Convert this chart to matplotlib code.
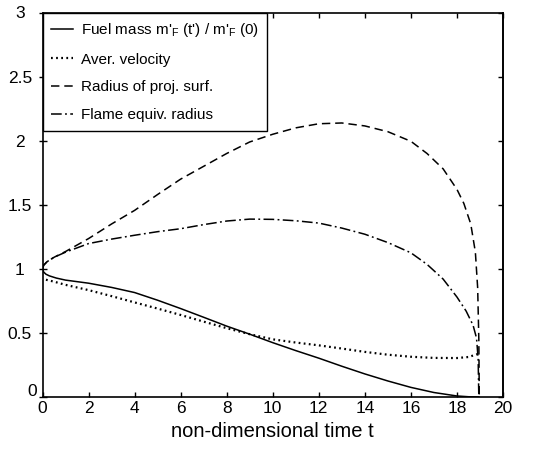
import matplotlib
matplotlib.use("Agg")
import matplotlib.pyplot as plt

plt.rcParams['font.family'] = ['Liberation Sans', 'DejaVu Sans']
plt.rcParams['mathtext.fontset'] = 'custom'
plt.rcParams['mathtext.rm'] = 'Liberation Sans'
plt.rcParams['mathtext.it'] = 'Liberation Sans:italic'

# Fuel mass
t_mass = [0, 0.05, 0.15, 0.3, 0.6, 1.0, 1.5, 2, 3, 4, 5, 6, 7, 8, 9, 10, 11, 12,
          13, 14, 15, 16, 17, 18, 18.5, 18.95]
y_mass = [1.0, 0.975, 0.958, 0.945, 0.928, 0.912, 0.900, 0.888, 0.855, 0.815, 0.755,
          0.690, 0.622, 0.553, 0.490, 0.424, 0.362, 0.303, 0.240, 0.180, 0.125, 0.075,
          0.035, 0.008, 0.002, 0.0]

# Average velocity
t_vel = [0.15, 0.5, 1, 2, 3, 4, 5, 6, 7, 8, 9, 10, 11, 12, 13, 14, 15, 16, 17, 18,
         18.5, 18.9]
y_vel = [0.915, 0.900, 0.875, 0.834, 0.787, 0.738, 0.690, 0.640, 0.588, 0.537, 0.490,
         0.450, 0.425, 0.403, 0.378, 0.352, 0.330, 0.314, 0.305, 0.304, 0.312, 0.335]

# Radius of projected surface
t_rad = [0, 0.05, 0.2, 0.5, 1, 2, 3, 4, 5, 6, 7, 8, 9, 10, 11, 12, 13, 14, 15, 16,
         16.7, 17.4, 18, 18.3, 18.6, 18.8, 18.9, 18.95, 18.97]
y_rad = [1.0, 1.028, 1.056, 1.09, 1.135, 1.236, 1.35, 1.456, 1.58, 1.70, 1.80, 1.90,
         1.99, 2.05, 2.10, 2.132, 2.138, 2.115, 2.07, 1.995, 1.90, 1.78, 1.62, 1.51,
         1.35, 1.13, 0.85, 0.45, 0.0]

# Flame equivalent radius
t_flame = [0, 0.05, 0.2, 0.5, 1, 2, 3, 4, 5, 6, 7, 8, 9, 10, 11, 12, 13, 14, 15, 16,
           16.7, 17.4, 18, 18.4, 18.7, 18.85, 18.92, 18.95]
y_flame = [1.0, 1.028, 1.056, 1.09, 1.13, 1.197, 1.232, 1.262, 1.29, 1.313, 1.345,
           1.373, 1.388, 1.386, 1.375, 1.357, 1.318, 1.270, 1.205, 1.125, 1.035, 0.92,
           0.78, 0.67, 0.56, 0.46, 0.30, 0.0]

labels = [r"Fuel mass m$'_\mathrm{F}$ (t') / m$'_\mathrm{F}$ (0)",
          "Aver. velocity",
          "Radius of proj. surf.",
          "Flame equiv. radius"]
xticks = [0, 2, 4, 6, 8, 10, 12, 14, 16, 18, 20]
yticks = [0, 0.5, 1, 1.5, 2, 2.5, 3]
ytick_labels = ["0", "0.5", "1", "1.5", "2", "2.5", "3"]

fig = plt.figure(figsize=(5.54, 4.49), dpi=100)
ax = fig.add_axes([42.5/554, 1-397/449, (503-42.5)/554, (397-12.5)/449])

lw = 1.1
ax.plot(t_mass, y_mass, color='black', lw=lw, label=labels[0])
ax.plot(t_vel, y_vel, color='black', lw=1.6, dashes=(0.8, 1.5), label=labels[1])
ax.plot(t_rad, y_rad, color='black', lw=lw, dashes=(5.5, 3.2), label=labels[2])
ax.plot(t_flame, y_flame, color='black', lw=lw, dashes=(7, 2.2, 1.2, 2.2), label=labels[3])

ax.set_xlim(0, 20)
ax.set_ylim(0, 3)
ax.set_xticks(xticks)
ax.set_xticklabels([str(v) for v in xticks])
ax.set_yticks(yticks)
# "0" on the y axis is drawn separately (it sits right-aligned, slightly raised)
ax.set_yticklabels([""] + ytick_labels[1:], ha='center')
for s in ax.spines.values():
    s.set_linewidth(1.2)
ax.tick_params(axis='x', direction='in', top=True, length=3.5, width=1, labelsize=12.5, pad=3)
ax.tick_params(axis='y', direction='inout', length=6, width=1, pad=13.3,
               labelsize=12.5, left=True, right=False)
ax.annotate(ytick_labels[0], xy=(0, 0), xycoords='axes fraction',
            xytext=(-4.0, 3.6), textcoords='offset points',
            ha='right', va='center', fontsize=12.5)
# right-side inward ticks
axr = ax.secondary_yaxis('right')
axr.set_yticks(yticks)
axr.set_yticklabels([])
axr.tick_params(direction='in', length=3.5, width=1)
axr.spines['right'].set_linewidth(1.2)

ax.set_xlabel("non-dimensional time t", fontsize=14.5, labelpad=4)

leg = ax.legend(loc='upper left', bbox_to_anchor=(0, 1), borderaxespad=0,
                fancybox=False, edgecolor='black', framealpha=1, fontsize=11,
                handlelength=1.45, handletextpad=0.5, labelspacing=0.9, borderpad=0.55)
leg.get_frame().set_linewidth(1.0)

fig.savefig("out.png", dpi=100)
